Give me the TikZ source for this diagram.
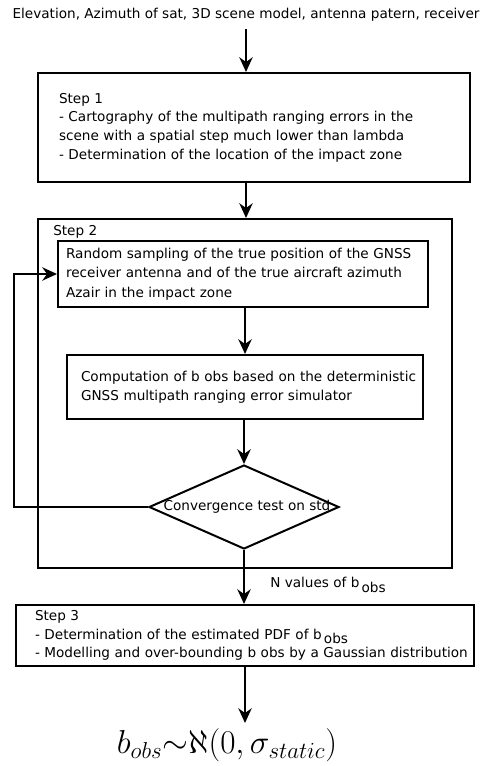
\documentclass[tikz,border=0pt]{standalone}
\usepackage{fontspec}
\setmainfont{DejaVu Sans}
\usetikzlibrary{shapes.geometric,arrows.meta}
\newcommand{\oneline}[1]{\mbox{#1}}
\begin{document}
\begin{tikzpicture}[x=0.75pt,y=-0.75pt,
  arr/.style={line width=1.5pt,-{Stealth[length=11pt,width=10pt,inset=3.5pt]}},
  box/.style={draw,line width=1.5pt,rectangle,font=\fontsize{10.2}{14}\selectfont,align=left,inner ysep=0pt},
  lbl/.style={font=\fontsize{10.2}{14}\selectfont,inner sep=0pt}]
\useasboundingbox (0,0) rectangle (481,766);
\node[lbl] (top) at (246,15) {Elevation, Azimuth of sat, 3D scene model, antenna patern, receiver};
\node[box,minimum width=432*0.75pt,minimum height=109*0.75pt,text width=390*0.75pt,inner xsep=21*0.75pt] (step1) at (254,127.5)
 {Step 1\\\oneline{- Cartography of the multipath ranging errors in the}\\\oneline{scene with a spatial step much lower than lambda}\\\oneline{- Determination of the location of the impact zone}};
\node[draw,line width=1.5pt,rectangle,minimum width=414*0.75pt,minimum height=349*0.75pt] (step2) at (245,393.5) {};
\node[lbl,anchor=west] (s2lbl) at (53,232) {Step 2};
\node[box,minimum width=370*0.75pt,minimum height=66*0.75pt,text width=354*0.75pt,inner xsep=8*0.75pt,font=\fontsize{10.2}{14.6}\selectfont] (boxA) at (243,274)
 {\oneline{Random sampling of the true position of the GNSS}\\\oneline{receiver antenna and of the true aircraft azimuth}\\Azair in the impact zone};
\node[box,minimum width=356*0.75pt,minimum height=64*0.75pt,text width=328*0.75pt,inner xsep=14*0.75pt] (boxB) at (245,387)
 {\oneline{Computation of b obs based on the deterministic}\\\oneline{GNSS multipath ranging error simulator}};
\node[draw,line width=1.5pt,diamond,minimum width=190*0.75pt,minimum height=84*0.75pt,inner sep=0pt] (dia) at (244,507) {};
\node[lbl] (diatext) at (247,507) {Convergence test on std};
\node[box,minimum width=458*0.75pt,minimum height=61*0.75pt,text width=420*0.75pt,inner xsep=19*0.75pt] (step3) at (245,635.5)
 {Step 3\\\oneline{- Determination of the estimated PDF of b\,\raisebox{-3.5pt}{obs}}\\\oneline{- Modelling and over-bounding b obs by a Gaussian distribution}};
\node[lbl,anchor=west] (nval) at (270,585) {N values of b\,\raisebox{-4pt}{obs}};
\node[inner sep=0pt] (res) at (227,745) {\fontsize{23.5}{28}\selectfont$b_{obs}{\sim}\aleph(0,\sigma_{static})$};
\coordinate (fb) at (14,507);
\draw[arr] (top.south) ++(0,7) -- (top.south |- step1.north);
\draw[arr] (step1.south -| top) -- (step2.north -| top);
\draw[arr] (boxA.south -| 245,0) -- (boxB.north -| 245,0);
\draw[arr] (dia.north |- boxB.south) -- (dia.north);
\draw[arr] (dia.south) -- (dia.south |- step3.north);
\draw[arr] (step3.south -| 245,0) -- (245,723);
\draw[arr] (dia.west) -- (fb) |- (boxA.west);
\end{tikzpicture}
\end{document}
